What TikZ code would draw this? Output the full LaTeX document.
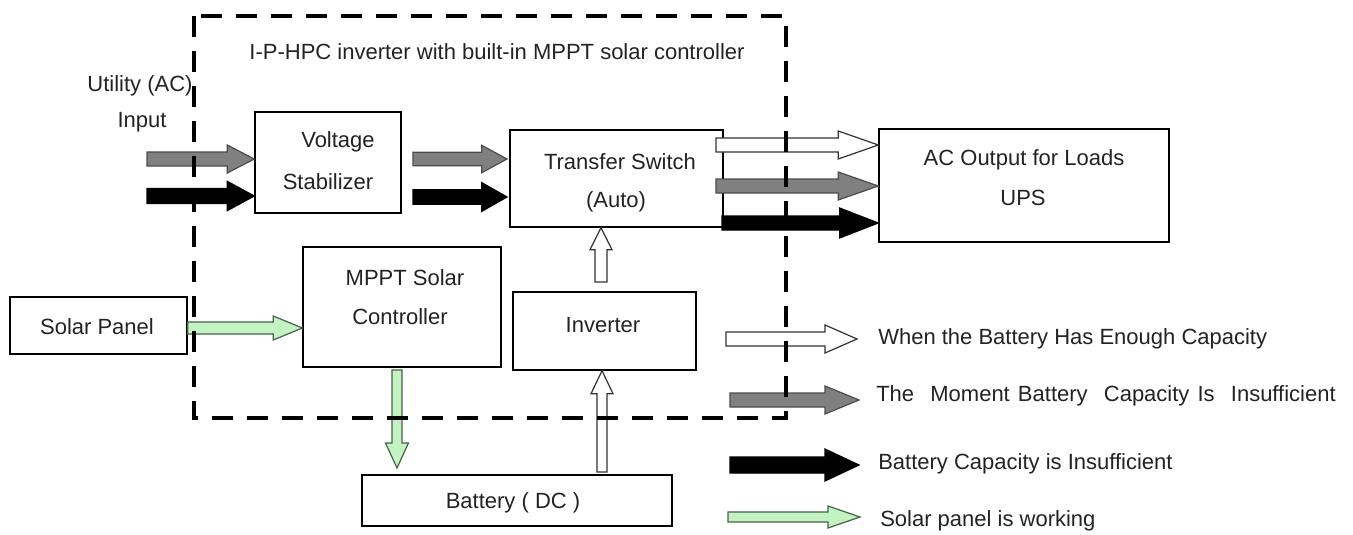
\documentclass[tikz,border=0pt]{standalone}
\usepackage{fontspec}
\setmainfont{Liberation Sans}
\usetikzlibrary{calc,fit}
\definecolor{agray}{RGB}{128,128,128}
\definecolor{agreen}{RGB}{195,242,195}
\definecolor{agreenline}{RGB}{70,100,70}
\definecolor{txt}{RGB}{35,35,35}
% block arrow: style, from, to, shaft half width, head half width, head length
\newcommand\blockarrow[6]{%
  \coordinate (bahead) at ($(#3)!#6!(#2)$);
  \draw[#1] ($(#2)!#4!90:(#3)$) -- ($(bahead)!#4!90:(#3)$) -- ($(bahead)!#5!90:(#3)$) -- (#3)
    -- ($(bahead)!#5!-90:(#3)$) -- ($(bahead)!#4!-90:(#3)$) -- ($(#2)!#4!-90:(#3)$) -- cycle;}
\tikzset{
  box/.style={draw=black, line width=1.1pt, inner sep=0pt},
  lbl/.style={text=txt, font=\fontsize{16.5}{18}\selectfont, inner sep=0pt},
  wA/.style={draw=black!80, fill=white, line width=0.9pt, line join=miter},
  gA/.style={draw=black!70, fill=agray, line width=0.9pt, line join=miter},
  kA/.style={draw=black, fill=black, line width=0.9pt, line join=miter},
  nA/.style={draw=agreenline, fill=agreen, line width=0.9pt, line join=miter},
  frame/.style={line width=3pt, dash pattern=on 15.75pt off 10.5pt}
}
\begin{document}
\begin{tikzpicture}[x=0.75pt,y=-0.75pt]
\useasboundingbox (0,0) rectangle (1353,535);
\fill[white] (0,0) rectangle (1353,535);

% boxes
\node[box, fit={(255,112) (401,213)}] (stab) {};
\node[box, fit={(510,130) (723,227)}] (ts) {};
\node[box, fit={(879,129) (1169,242)}] (ac) {};
\node[box, fit={(10,297) (187,354)}] (solar) {};
\node[box, fit={(303,247) (501,367)}] (mppt) {};
\node[box, fit={(513,292) (696,370)}] (inv) {};
\node[box, fit={(362,475) (672,526)}] (batt) {};

% texts
\node[lbl] (title) at (497,52) {I-P-HPC inverter with built-in MPPT solar controller};
\node[lbl] (util1) at (140,86) {Utility (AC)};
\node[lbl] (util2) at (142,122) {Input};
\node[lbl] (stabt1) at (338,142) {Voltage};
\node[lbl] (stabt2) at (328,182) {Stabilizer};
\node[lbl] (tst1) at (620,162) {Transfer Switch};
\node[lbl] (tst2) at (616,202) {(Auto)};
\node[lbl] (act1) at (1024,160) {AC Output for Loads};
\node[lbl] (act2) at (1023,198) {UPS};
\node[lbl] (solart) at (97,327) {Solar Panel};
\node[lbl] (mpptt1) at (405,278) {MPPT Solar};
\node[lbl] (mpptt2) at (400,317) {Controller};
\node[lbl] (invt) at (603,325) {Inverter};
\node[lbl] (battt) at (513,503) {Battery ( DC )};

% coordinates for connectors
\coordinate (inG) at (147,159); \coordinate (inGe) at (stab.west |- inG);
\coordinate (inK) at (147,196); \coordinate (inKe) at (stab.west |- inK);
\coordinate (sG) at (413,159);  \coordinate (sGe) at (507,159);
\coordinate (sK) at (413,197);  \coordinate (sKe) at (507,197);
\coordinate (oW) at (716,145);  \coordinate (oWe) at (ac.west |- oW);
\coordinate (oG) at (716,186);  \coordinate (oGe) at (ac.west |- oG);
\coordinate (oK) at (722,223);  \coordinate (oKe) at (ac.west |- oK);
\coordinate (pS) at (solar.east |- 0,328); \coordinate (pSe) at (mppt.west |- pS);
\coordinate (mB) at (397,370);  \coordinate (mBe) at (397,468);
\coordinate (bI) at (602,472);  \coordinate (bIe) at (bI |- inv.south);
\coordinate (iT) at (601,282);  \coordinate (iTe) at (iT |- ts.south);

% connectors
\blockarrow{gA}{inG}{inGe}{5.25pt}{10.5pt}{20.25pt}
\blockarrow{kA}{inK}{inKe}{5.6pt}{11pt}{20.25pt}
\blockarrow{gA}{sG}{sGe}{5pt}{10.3pt}{19pt}
\blockarrow{kA}{sK}{sKe}{5.4pt}{10.8pt}{19pt}
\blockarrow{wA}{oW}{oWe}{5.25pt}{10.5pt}{30pt}
\blockarrow{gA}{oG}{oGe}{5.25pt}{10.5pt}{30pt}
\blockarrow{kA}{oK}{oKe}{5.25pt}{11.25pt}{29pt}
\blockarrow{nA}{pS}{pSe}{4.5pt}{9pt}{21.75pt}
\blockarrow{nA}{mB}{mBe}{3.75pt}{8.6pt}{18.75pt}
\blockarrow{wA}{bI}{bIe}{3.75pt}{8.25pt}{17.25pt}
\blockarrow{wA}{iT}{iTe}{4.5pt}{8.25pt}{16.5pt}

% legend
\coordinate (l1) at (726,339); \coordinate (l1e) at (857,339);
\coordinate (l2) at (730,400); \coordinate (l2e) at (859,400);
\coordinate (l3) at (730,465); \coordinate (l3e) at (859,465);
\coordinate (l4) at (728,517); \coordinate (l4e) at (860,517);
\blockarrow{wA}{l1}{l1e}{5.25pt}{10.5pt}{24pt}
\blockarrow{gA}{l2}{l2e}{5.25pt}{10.5pt}{25.5pt}
\blockarrow{kA}{l3}{l3e}{6pt}{12pt}{25.5pt}
\blockarrow{nA}{l4}{l4e}{3.75pt}{8.25pt}{24pt}
\node[lbl, anchor=west] (lt1) at (878,339) {When the Battery Has Enough Capacity};
\node[lbl, anchor=west] (lt2) at (876,396) {The\ \hspace{3pt}\ Moment\hspace{1.5pt} Battery\ \hspace{3pt}\ Capacity\hspace{1.5pt} Is\ \hspace{3pt}\ Insufficient};
\node[lbl, anchor=west] (lt3) at (878,464) {Battery Capacity is Insufficient};
\node[lbl, anchor=west] (lt4) at (880,521) {Solar panel is working};

% dashed enclosure
\draw[frame] (194,16) rectangle (786,418);
\end{tikzpicture}
\end{document}
